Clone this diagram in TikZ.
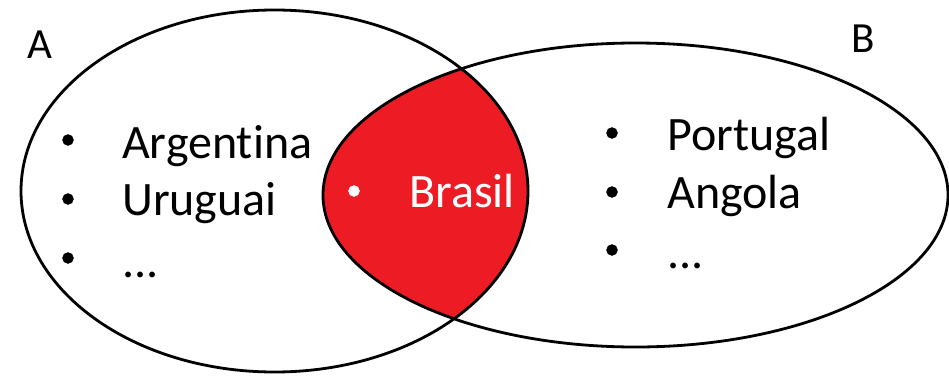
\documentclass[tikz,border=0pt]{standalone}
\usepackage{fontspec}
\setmainfont[Ligatures={NoCommon,NoContextual}]{Carlito}
\definecolor{brred}{RGB}{237,28,36}
\tikzset{
  item/.style={anchor=base west,inner sep=0pt,font=\fontsize{48}{56}\selectfont},
  setname/.style={inner sep=0pt,font=\fontsize{43}{50}\selectfont}
}
\begin{document}
\begin{tikzpicture}[x=1pt,y=-1pt]
\useasboundingbox (0,0) rectangle (949,375);
% intersection
\begin{scope}
\clip (274.5,191) ellipse (253.5 and 181);
\fill[brred] (635.5,195) ellipse (312.5 and 152);
\end{scope}
\draw[line width=2.8pt] (274.5,191) ellipse (253.5 and 181);
\draw[line width=2.8pt] (635.5,195) ellipse (312.5 and 152);
\node[setname] (nameA) at (40,45) {A};
\node[setname] (nameB) at (863,39) {B};
% set A
\filldraw (68,140) circle (5.5pt);
\node[item] (arg) at (122,158) {Argentina};
\filldraw (68,199) circle (5.5pt);
\node[item] (uru) at (122,215) {Uruguai};
\filldraw (68,258) circle (5.5pt);
\node[item] (dotsA) at (122,277) {...};
% set B
\filldraw (612,133) circle (5.5pt);
\node[item] (por) at (667,150) {Portugal};
\filldraw (612,192) circle (5.5pt);
\node[item] (ang) at (667,208) {Angola};
\filldraw (612,250) circle (5.5pt);
\node[item] (dotsB) at (667,268) {...};
% both
\filldraw[white] (354,191) circle (5.5pt);
\node[item,white] (bra) at (409,207) {Brasil};
\end{tikzpicture}
\end{document}
